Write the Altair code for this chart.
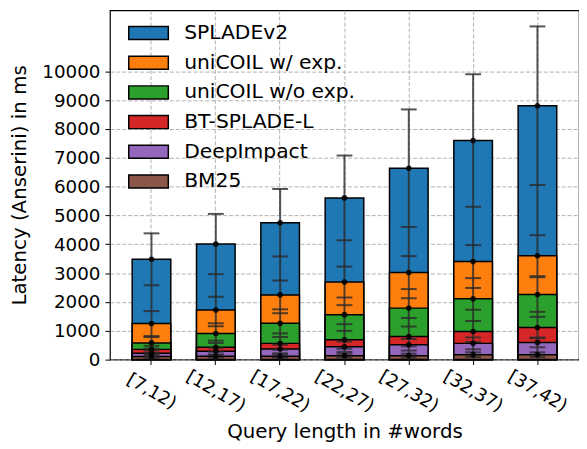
import altair as alt
import pandas as pd

bins = ["[7,12)", "[12,17)", "[17,22)", "[22,27)", "[27,32)", "[32,37)", "[37,42)"]
methods = ["SPLADEv2", "uniCOIL w/ exp.", "uniCOIL w/o exp.", "BT-SPLADE-L", "DeepImpact", "BM25"]
colors = ["#1f77b4", "#ff7f0e", "#2ca02c", "#d62728", "#9467bd", "#8c564b"]

splade_mean = [3480, 4010, 4750, 5610, 6640, 7600, 8810]
splade_std = [900, 1045, 1170, 1470, 2040, 2300, 2750]
unicoil_exp_mean = [1250, 1720, 2245, 2690, 3020, 3400, 3605]
unicoil_exp_std = [433, 460, 500, 536, 573, 573, 711]
unicoil_noexp_mean = [580, 906, 1260, 1559, 1786, 2108, 2256]
unicoil_noexp_std = [200, 250, 350, 330, 343, 378, 600]
btsplade_mean = [355, 425, 563, 687, 803, 975, 1113]
btsplade_std = [120, 150, 220, 309, 344, 364, 370]
deepimpact_mean = [220, 288, 367, 447, 515, 563, 597]
deepimpact_std = [100, 120, 150, 180, 200, 206, 171]
bm25_mean = [110, 115, 120, 137, 137, 172, 172]
bm25_std = [50, 55, 60, 70, 70, 82, 80]

y_ticks = [0, 1000, 2000, 3000, 4000, 5000, 6000, 7000, 8000, 9000, 10000]

means = [splade_mean, unicoil_exp_mean, unicoil_noexp_mean, btsplade_mean, deepimpact_mean, bm25_mean]
stds = [splade_std, unicoil_exp_std, unicoil_noexp_std, btsplade_std, deepimpact_std, bm25_std]

rows = []
for k, m in enumerate(methods):
    for i, b in enumerate(bins):
        mu = means[k][i]
        sd = stds[k][i]
        rows.append({"bin": b, "method": m, "order": k, "mean": mu,
                     "lo": mu - sd, "hi": mu + sd})
df = pd.DataFrame(rows)

caps = pd.concat([
    df[["bin", "method", "lo"]].rename(columns={"lo": "v"}),
    df[["bin", "method", "hi"]].rename(columns={"hi": "v"}),
])
line_df = df.groupby("bin", as_index=False)["hi"].max()
line_df["zero"] = 0

FONT = "DejaVu Sans"
xscale = alt.Scale(domain=bins, paddingInner=0.4, paddingOuter=0.346)
yscale = alt.Scale(domain=[0, 12120], nice=False, zero=True)

x_axis = alt.Axis(
    title="Query length in #words", titleFontSize=20, titleFontWeight="normal",
    titleColor="black", titlePadding=7,
    labelAngle=30, labelAlign="center", labelBaseline="middle", labelPadding=27,
    labelFontSize=18, labelColor="black", labelOverlap=False,
    tickSize=5, tickColor="black", tickWidth=1, domain=False,
    grid=True, gridDash=[4, 2], gridColor="#b0b0b0", gridWidth=1, bandPosition=0.5,
)
y_axis = alt.Axis(
    title="Latency (Anserini) in ms", titleFontSize=20, titleFontWeight="normal",
    titleColor="black", titlePadding=12,
    values=y_ticks, tickCount=11, format="d", labelFontSize=18.5, labelColor="black",
    labelPadding=5, labelOverlap=False,
    tickSize=5, tickColor="black", tickWidth=1, domain=False,
    grid=True, gridDash=[4, 2], gridColor="#b0b0b0", gridWidth=1,
)

X = alt.X("bin:N", scale=xscale, axis=x_axis, sort=bins)

bars = alt.Chart(df).mark_bar(stroke="black", strokeWidth=1.5, opacity=1).encode(
    x=X,
    y=alt.Y("mean:Q", scale=yscale, axis=y_axis, stack=None),
    color=alt.Color("method:N", scale=alt.Scale(domain=methods, range=colors),
                    legend=alt.Legend(
                        title=None, orient="none", legendX=28, legendY=12,
                        symbolType="M-2,-0.66H2V0.66H-2Z", symbolSize=400,
                        symbolStrokeColor="black", symbolStrokeWidth=1.5,
                        symbolOpacity=1,
                        labelFontSize=20.5, labelColor="black", labelOffset=25,
                        labelLimit=400, rowPadding=8, padding=0)),
    order=alt.Order("order:Q"),
)

vline = alt.Chart(line_df).mark_rule(color="#2a2a2a", strokeWidth=2, opacity=0.8).encode(
    x=X,
    y=alt.Y("zero:Q", scale=yscale, axis=y_axis),
    y2="hi:Q",
)

cap_marks = alt.Chart(caps).mark_tick(color="#2a2a2a", thickness=2, size=16, opacity=0.8).encode(
    x=X,
    y=alt.Y("v:Q", scale=yscale, axis=y_axis),
)

dots = alt.Chart(df).mark_circle(color="black", size=32, opacity=0.85).encode(
    x=X,
    y=alt.Y("mean:Q", scale=yscale, axis=y_axis),
)

chart = alt.layer(bars, vline, cap_marks, dots).properties(
    width=474, height=353,
    padding={"left": 2, "top": 0, "right": 0, "bottom": 0},
).configure(font=FONT).configure_view(stroke="black", strokeWidth=1.2)

chart.save("out.html", embed_options={"renderer": "svg", "actions": False})
